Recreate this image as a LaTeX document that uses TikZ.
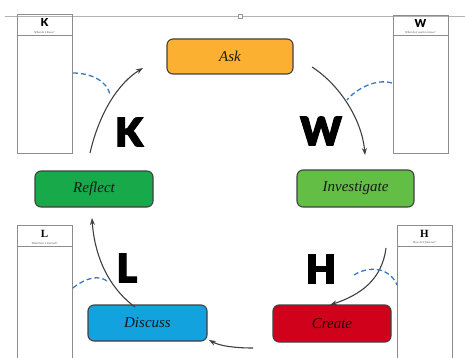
\documentclass[tikz,border=0pt]{standalone}
\usepackage{fontspec}
\setmainfont{Liberation Serif}
\newfontfamily\heavy[UprightFont={* Black},FakeBold=3]{Lato}
\newfontfamily\heavysmall[UprightFont={* Black}]{Lato}
\usetikzlibrary{arrows.meta}
\definecolor{askc}{HTML}{FBB031}
\definecolor{refc}{HTML}{17A94A}
\definecolor{invc}{HTML}{62BE45}
\definecolor{disc}{HTML}{12A2DD}
\definecolor{crec}{HTML}{D0021B}
\definecolor{dashc}{HTML}{3A78BF}
\definecolor{arrc}{HTML}{404040}
\tikzset{
  stage/.style={draw=black!75, line width=1.1pt, rounded corners=6pt, minimum height=36pt, inner sep=0pt,
    font=\fontsize{15}{15}\selectfont\itshape, text=black!90},
  flow/.style={draw=arrc, line width=1.1pt, -{Stealth[length=7pt,width=5pt]}},
  link/.style={draw=dashc, line width=1.3pt, dash pattern=on 5pt off 3pt},
  frame/.style={draw=black!45, line width=0.7pt},
  bigletter/.style={font=\heavy\fontsize{39}{39}\selectfont, text=black, inner sep=0pt},
  hdr/.style={inner sep=0pt, font=\bfseries\fontsize{11}{11}\selectfont},
  sub/.style={inner sep=0pt, font=\itshape\fontsize{3}{3}\selectfont, text=black!70}
}
\begin{document}
\begin{tikzpicture}[x=1pt,y=-1pt]
\useasboundingbox (0,0) rectangle (465,358);
% page edge line
\draw[black!30, line width=0.6pt] (5,16) -- (465,16);
\draw[black!40, line width=0.5pt, fill=white] (238,14) rectangle (242,18);
% KWLH frames
\draw[frame] (17,14) rectangle (72,153);
\draw[frame] (17,35) -- (72,35);
\node[hdr, font=\heavysmall\fontsize{11}{11}\selectfont] (hk) at (44.5,22) {K};
\node[sub] (sk) at (44.5,32) {What do I know?};
\draw[frame] (393,15) rectangle (448,153);
\draw[frame] (393,35) -- (448,35);
\node[hdr, font=\heavysmall\fontsize{11}{11}\selectfont] (hw) at (420.5,23) {W};
\node[sub] (sw) at (420.5,32) {What do I want to know?};
\draw[frame] (17,358) -- (17,225) -- (72,225) -- (72,358);
\draw[frame] (17,246) -- (72,246);
\node[hdr] (hl) at (44.5,234) {L};
\node[sub] (sl) at (44.5,243) {What have I learned?};
\draw[frame] (397,358) -- (397,225) -- (452,225) -- (452,358);
\draw[frame] (397,246) -- (452,246);
\node[hdr] (hh) at (424.5,234) {H};
\node[sub] (sh) at (424.5,243) {How do I find out?};
% stages
\node[stage, fill=askc, minimum width=126pt, minimum height=35pt] (ask) at (230,56.5) {Ask};
\node[stage, fill=refc, minimum width=118pt] (reflect) at (94,189) {Reflect};
\node[stage, fill=invc, minimum width=117pt, minimum height=37pt] (inv) at (355.5,188.5) {Investigate};
\node[stage, fill=disc, minimum width=119pt] (disc) at (147.5,323) {Discuss};
\node[stage, fill=crec, minimum width=118pt, minimum height=37pt, text=black!85!red] (create) at (332,323.5) {Create};
% big letters
\node[bigletter] (K) at (129,132) {K};
\node[bigletter] (W) at (321,131) {W};
\node[bigletter] (H) at (321,269) {H};
\node[bigletter] (L) at (127,268) {L};
% arrow endpoints
\coordinate (k0) at (90,153); \coordinate (k1) at (143,68);
\coordinate (w0) at (312,67); \coordinate (w1) at (365,155);
\coordinate (h0) at (386,248); \coordinate (h1) at (330,305);
\coordinate (b0) at (253,348); \coordinate (b1) at (209,340);
\coordinate (l0) at (135,307); \coordinate (l1) at (92,218);
\draw[flow] (k0) .. controls (100,110) and (120,82) .. (k1);
\draw[flow] (w0) .. controls (340,85) and (362,120) .. (w1);
\draw[flow] (h0) .. controls (382,280) and (360,295) .. (h1);
\draw[flow] (b0) .. controls (235,348) and (220,346) .. (b1);
\draw[flow] (l0) .. controls (105,285) and (94,250) .. (l1);
% dashed links
\coordinate (dk0) at (73,73); \coordinate (dk1) at (110,95);
\coordinate (dw0) at (392,83); \coordinate (dw1) at (347,100);
\coordinate (dl0) at (73,288); \coordinate (dl1) at (108,282);
\coordinate (dh0) at (354,275); \coordinate (dh1) at (397,285);
\draw[link] (dk0) .. controls (92,73) and (108,82) .. (dk1);
\draw[link] (dw0) .. controls (375,78) and (355,90) .. (dw1);
\draw[link] (dl0) .. controls (85,278) and (100,274) .. (dl1);
\draw[link] (dh0) .. controls (370,265) and (390,268) .. (dh1);
\end{tikzpicture}
\end{document}
